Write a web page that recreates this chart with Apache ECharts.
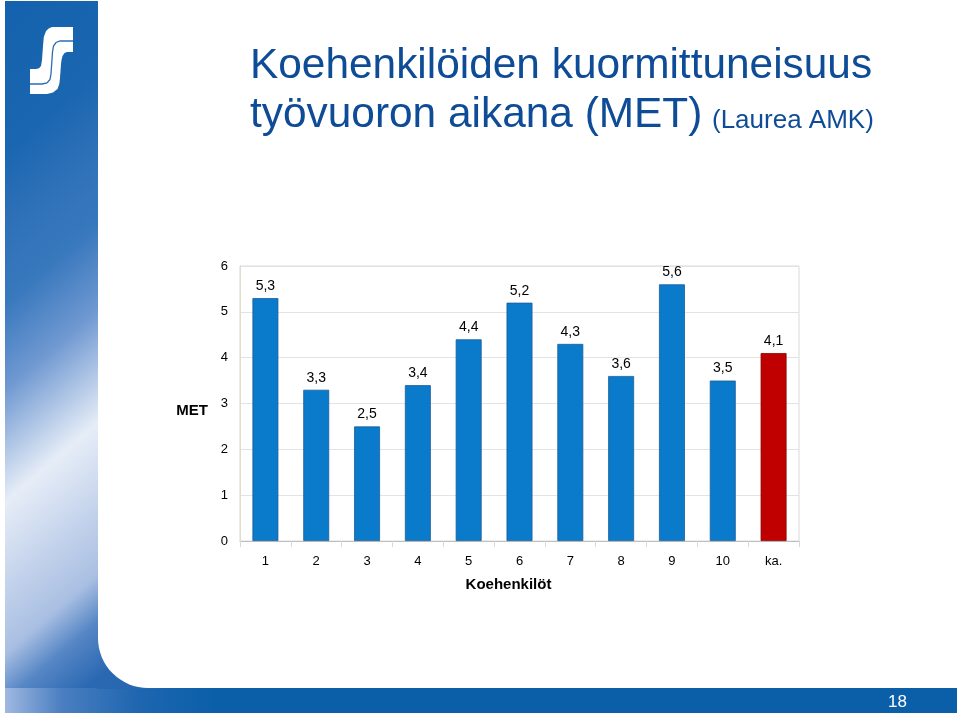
<!DOCTYPE html>
<html>
<head>
<meta charset="utf-8">
<script src="https://cdn.jsdelivr.net/npm/echarts@6/dist/echarts.min.js"></script>
<style>
html,body{margin:0;padding:0;background:#fff;}
#chart{width:960px;height:716px;}
</style>
</head>
<body>
<div id="chart"></div>
<script>
// ---- data ----
var categories = ['1', '2', '3', '4', '5', '6', '7', '8', '9', '10', 'ka.'];
var metValues = [5.3, 3.3, 2.5, 3.4, 4.4, 5.2, 4.3, 3.6, 5.6, 3.5, 4.1];
var yTicks = [0, 1, 2, 3, 4, 5, 6];
var titleLine1 = 'Koehenkilöiden kuormittuneisuus';
var titleLine2 = 'työvuoron aikana (MET)';
var titleSub = '(Laurea AMK)';
var xName = 'Koehenkilöt';
var yName = 'MET';
var pageNo = '18';

var BLUE = '#0a7acb';
var RED = '#c00000';
var FONT = '"Liberation Sans", Arial, sans-serif';

var seriesData = metValues.map(function (v, i) {
  if (categories[i] === 'ka.') {
    return { value: v, itemStyle: { color: RED, borderColor: '#8a0000' } };
  }
  return v;
});

// decorative logo outline (slide template)
var logoOutline = [[52,27],[73,27],[73,52],[67,52],[64.5,53],[62.5,56],[61.5,60],[61,64],[60,78],
  [59.3,84],[57.5,89],[53,92.5],[47,94],[30,94],[30,69],[36,69],[39,68.3],[41,66],[42,60],[43,46],
  [43.8,37],[46,31],[49,28.3]];
var logoLine = [[73,41],[60,41],[56,42.5],[53.5,46],[52.5,52],[51,74],[50,79.5],[47,83],[42,84],[30,84]];

var sideFill = {
  type: 'linear', x: 5, y: 0, x2: 473, y2: 547, global: true,
  colorStops: [
    { offset: 0, color: '#1461ad' },
    { offset: 0.16, color: '#1a66b0' },
    { offset: 0.25, color: '#3072b9' },
    { offset: 0.32, color: '#3878bd' },
    { offset: 0.41, color: '#6f98d1' },
    { offset: 0.53, color: '#e6edf7' },
    { offset: 0.6, color: '#cbd8ee' },
    { offset: 0.69, color: '#a9bfe2' },
    { offset: 0.74, color: '#5686c5' },
    { offset: 0.8, color: '#2a68b2' },
    { offset: 1, color: '#1a60ab' }
  ]
};

var chart = echarts.init(document.getElementById('chart'));
chart.setOption({
  backgroundColor: '#ffffff',
  animation: false,
  textStyle: { fontFamily: FONT },
  title: [
    {
      text: titleLine1 + '\n' + titleLine2,
      left: 250, top: 42, padding: 0,
      textStyle: { fontFamily: FONT, fontSize: 42.4, fontWeight: 'normal', color: '#0f4c97', lineHeight: 49 }
    },
    {
      text: titleSub,
      left: 712, top: 106, padding: 0,
      textStyle: { fontFamily: FONT, fontSize: 26, fontWeight: 'normal', color: '#0f4c97', lineHeight: 30 }
    },
    {
      text: pageNo,
      left: 888, top: 693, padding: 0,
      textStyle: { fontFamily: FONT, fontSize: 17, fontWeight: 'normal', color: '#ffffff', lineHeight: 18 }
    }
  ],
  graphic: {
    elements: [
      {
        type: 'rect', z: -10, silent: true,
        shape: { x: 5, y: 1, width: 93, height: 712 },
        style: { fill: sideFill }
      },
      {
        type: 'rect', z: -10, silent: true,
        shape: { x: 5, y: 688, width: 952, height: 25 },
        style: {
          fill: {
            type: 'linear', x: 5, y: 0, x2: 957, y2: 0, global: true,
            colorStops: [
              { offset: 0, color: '#9fb8e0' },
              { offset: 0.06, color: '#4a7ec1' },
              { offset: 0.14, color: '#1e66b0' },
              { offset: 0.22, color: '#0b5fa9' },
              { offset: 1, color: '#0b5fa9' }
            ]
          }
        }
      },
      {
        type: 'rect', z: -10, silent: true,
        shape: { x: 97, y: 630, width: 60, height: 59 },
        style: { fill: sideFill }
      },
      {
        type: 'rect', z: -9, silent: true,
        shape: { x: 98, y: -10, width: 880, height: 698, r: [0, 0, 0, 50] },
        style: { fill: '#ffffff' }
      },
      {
        type: 'polygon', z: -8, silent: true,
        shape: { points: logoOutline },
        style: { fill: '#ffffff' }
      },
      {
        type: 'polyline', z: -7, silent: true,
        shape: { points: logoLine },
        style: { fill: null, stroke: '#2a6db3', lineWidth: 1.3 }
      }
    ]
  },
  grid: {
    left: 240, right: 161, top: 266, bottom: 175,
    show: true, borderColor: '#d9d9d9', borderWidth: 1
  },
  xAxis: {
    type: 'category',
    data: categories,
    name: xName,
    nameLocation: 'middle',
    nameGap: 36,
    nameTextStyle: { fontFamily: FONT, fontSize: 15, fontWeight: 'bold', color: '#000', padding: [0, 22, 0, 0] },
    axisLine: { lineStyle: { color: '#bfbfbf', width: 1 } },
    axisTick: { show: true, length: 6, lineStyle: { color: '#d9d9d9' } },
    axisLabel: { fontFamily: FONT, fontSize: 13, color: '#000', margin: 14 },
    splitLine: { show: false }
  },
  yAxis: {
    type: 'value',
    min: yTicks[0],
    max: yTicks[yTicks.length - 1],
    interval: 1,
    name: yName,
    nameLocation: 'middle',
    nameRotate: 0,
    nameGap: 32,
    nameTextStyle: { fontFamily: FONT, fontSize: 15, fontWeight: 'bold', color: '#000', verticalAlign: 'top', align: 'right' },
    axisLine: { show: true, lineStyle: { color: '#e0dccf', width: 1 } },
    axisTick: { show: false },
    axisLabel: { fontFamily: FONT, fontSize: 13, color: '#000', margin: 12 },
    splitLine: { show: true, lineStyle: { color: '#e3e3e3', width: 1 } }
  },
  series: [
    {
      type: 'bar',
      data: seriesData,
      barWidth: '51%',
      itemStyle: { color: BLUE, borderColor: '#1b5d99', borderWidth: 0.8 },
      label: {
        show: true,
        position: 'top',
        distance: 5,
        fontFamily: FONT,
        fontSize: 14,
        color: '#000',
        formatter: function (p) { return String(p.value).replace('.', ','); }
      }
    }
  ]
});
</script>
</body>
</html>
